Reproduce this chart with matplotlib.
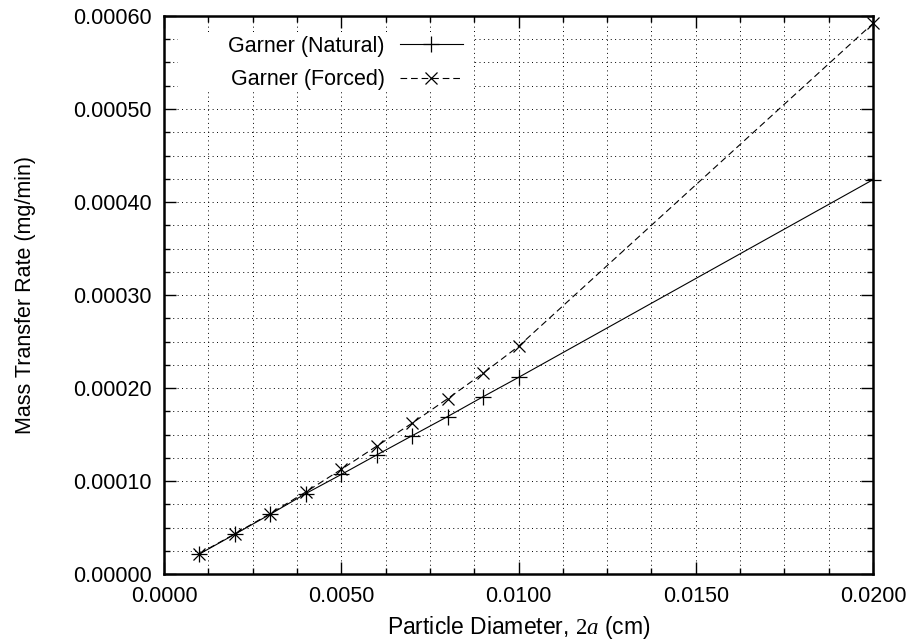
import matplotlib
matplotlib.use("Agg")
import matplotlib.pyplot as plt
from matplotlib.ticker import MultipleLocator, FormatStrFormatter
from matplotlib.patches import Rectangle

# Particle diameter 2a (cm)
diameter = [0.001, 0.002, 0.003, 0.004, 0.005, 0.006, 0.007, 0.008, 0.009, 0.010, 0.020]

# Mass transfer rate (mg/min), Garner correlations
natural = [0.0000215, 0.0000428, 0.0000643, 0.0000865, 0.0001070, 0.0001280,
           0.0001487, 0.0001693, 0.0001906, 0.0002114, 0.0004240]
forced = [0.0000220, 0.0000432, 0.0000650, 0.0000882, 0.0001125, 0.0001375,
          0.0001622, 0.0001885, 0.0002158, 0.0002448, 0.0005920]

x_ticks_fmt = "%.4f"
y_ticks_fmt = "%.5f"

plt.rcParams["font.family"] = ["Liberation Sans", "DejaVu Sans"]
plt.rcParams["mathtext.fontset"] = "custom"
plt.rcParams["mathtext.it"] = "Liberation Serif:italic"
plt.rcParams["mathtext.rm"] = "Liberation Serif"

FS = 15.5

fig = plt.figure(figsize=(9.08, 6.44), dpi=100)
ax = fig.add_axes([164 / 908, 1 - 574 / 644, 709 / 908, 558 / 644])

ax.set_xlim(0.0, 0.020)
ax.set_ylim(0.0, 0.0006)

ax.xaxis.set_major_locator(MultipleLocator(0.005))
ax.xaxis.set_minor_locator(MultipleLocator(0.00125))
ax.yaxis.set_major_locator(MultipleLocator(0.0001))
ax.yaxis.set_minor_locator(MultipleLocator(0.000025))
ax.xaxis.set_major_formatter(FormatStrFormatter(x_ticks_fmt))
ax.yaxis.set_major_formatter(FormatStrFormatter(y_ticks_fmt))

ax.set_axisbelow(True)
ax.grid(which="both", color="black", linestyle=(0, (1, 3.5)), linewidth=0.7)

ax.tick_params(which="both", direction="in", top=True, right=True, colors="black")
ax.tick_params(which="major", length=8.6, width=1.0, labelsize=FS)
ax.tick_params(axis="x", which="major", pad=8.5)
ax.tick_params(axis="y", which="major", pad=9)
ax.tick_params(which="minor", length=4.3, width=1.0)

for sp in ax.spines.values():
    sp.set_linewidth(1.8)

ax.plot(diameter, natural, color="black", linewidth=0.8, linestyle="-",
        marker="+", markersize=11, markeredgewidth=0.9, clip_on=False,
        label="Garner (Natural)", zorder=3)
ax.plot(diameter, forced, color="black", linewidth=0.8, linestyle=(0, (6, 3.5)),
        marker="x", markersize=9, markeredgewidth=0.9, clip_on=False,
        label="Garner (Forced)", zorder=3)

# white backdrop behind the key, covering the grid
ax.add_patch(Rectangle((0.0197, 0.867), 0.417, 0.101, transform=ax.transAxes,
                       facecolor="white", edgecolor="none", zorder=1))

ax.legend(loc="upper left", bbox_to_anchor=(0.0903, 0.965), frameon=False,
          markerfirst=False, fontsize=FS, borderpad=0, borderaxespad=0,
          handlelength=2.93, handletextpad=0.7, labelspacing=0.6, numpoints=1)

ax.set_xlabel(r"Particle Diameter, $\mathit{2a}$ (cm)", fontsize=16.5, labelpad=5.5)
ax.set_ylabel("Mass Transfer Rate (mg/min)", fontsize=FS)
ax.yaxis.set_label_coords(-0.1805, 0.5)

fig.savefig("out.png", dpi=100)
